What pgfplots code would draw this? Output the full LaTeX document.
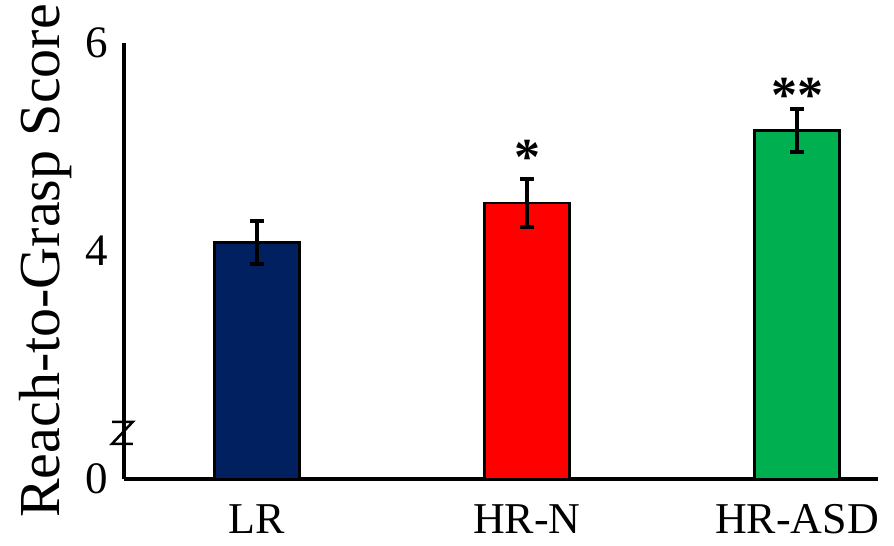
\documentclass[border=0pt]{standalone}
\usepackage{pgfplots}
\pgfplotsset{compat=1.18}
\usepackage{fontspec}
\setmainfont{Liberation Serif}
\definecolor{lrblue}{HTML}{002060}
\definecolor{hrnred}{HTML}{FF0000}
\definecolor{asdgreen}{HTML}{00B050}
\begin{document}
\begin{tikzpicture}
\path[use as bounding box] (0,0) rectangle (894bp,546bp);
\begin{axis}[
  at={(124bp,67bp)}, anchor=south west,
  scale only axis, width=754bp, height=436bp,
  xmin=-0.4926, xmax=2.3,
  ymin=1.807, ymax=6,
  axis x line=bottom, axis y line=left,
  axis line style={-, line width=4.5bp, black},
  major tick length=0pt,
  xtick={0,1,2}, xticklabels={LR,HR-N,HR-ASD},
  ytick={1.807,4,6}, yticklabels={0,4,6},
  /pgf/number format/assume math mode=true,
  xticklabel style={font=\fontsize{44bp}{50bp}\selectfont, anchor=base, yshift=-54bp},
  yticklabel style={font=\fontsize{45bp}{50bp}\selectfont, anchor=east, xshift=-12bp},
  ylabel={Reach-to-Grasp Score},
  ylabel style={font=\fontsize{58bp}{64bp}\selectfont, at={(axis description cs:-0.1034,0.5)}, anchor=center},
  ybar, bar width=0.315, bar shift=0pt,
  clip=false,
  error bars/error mark=none,
  error bars/error bar style={line width=4.5bp, black},
]
\addplot[fill=lrblue, draw=black, line width=2.5bp,
  error bars/.cd, y dir=both, y explicit]
  coordinates {(0,4.08) +- (0,0.21)};
\addplot[fill=hrnred, draw=black, line width=2.5bp,
  error bars/.cd, y dir=both, y explicit]
  coordinates {(1,4.46) +- (0,0.23)};
\addplot[fill=asdgreen, draw=black, line width=2.5bp,
  error bars/.cd, y dir=both, y explicit]
  coordinates {(2,5.16) +- (0,0.205)};
% error bar caps (ends of the error bars)
\addplot[sharp plot, only marks, mark=-, mark size=7bp, line width=4bp, black, forget plot]
  coordinates {(0,4.29) (0,3.87) (1,4.69) (1,4.23) (2,5.365) (2,4.955)};
\node[font=\fontsize{52bp}{60bp}\selectfont\bfseries, anchor=base] at (axis cs:1,4.74) {*};
\node[font=\fontsize{52bp}{60bp}\selectfont\bfseries, anchor=base] at (axis cs:2,5.33) {**};
\draw[line width=2.5bp, black] (axis cs:-0.537,2.357) -- (axis cs:-0.46,2.357) -- (axis cs:-0.537,2.145) -- (axis cs:-0.46,2.145);
\end{axis}
\end{tikzpicture}
\end{document}
